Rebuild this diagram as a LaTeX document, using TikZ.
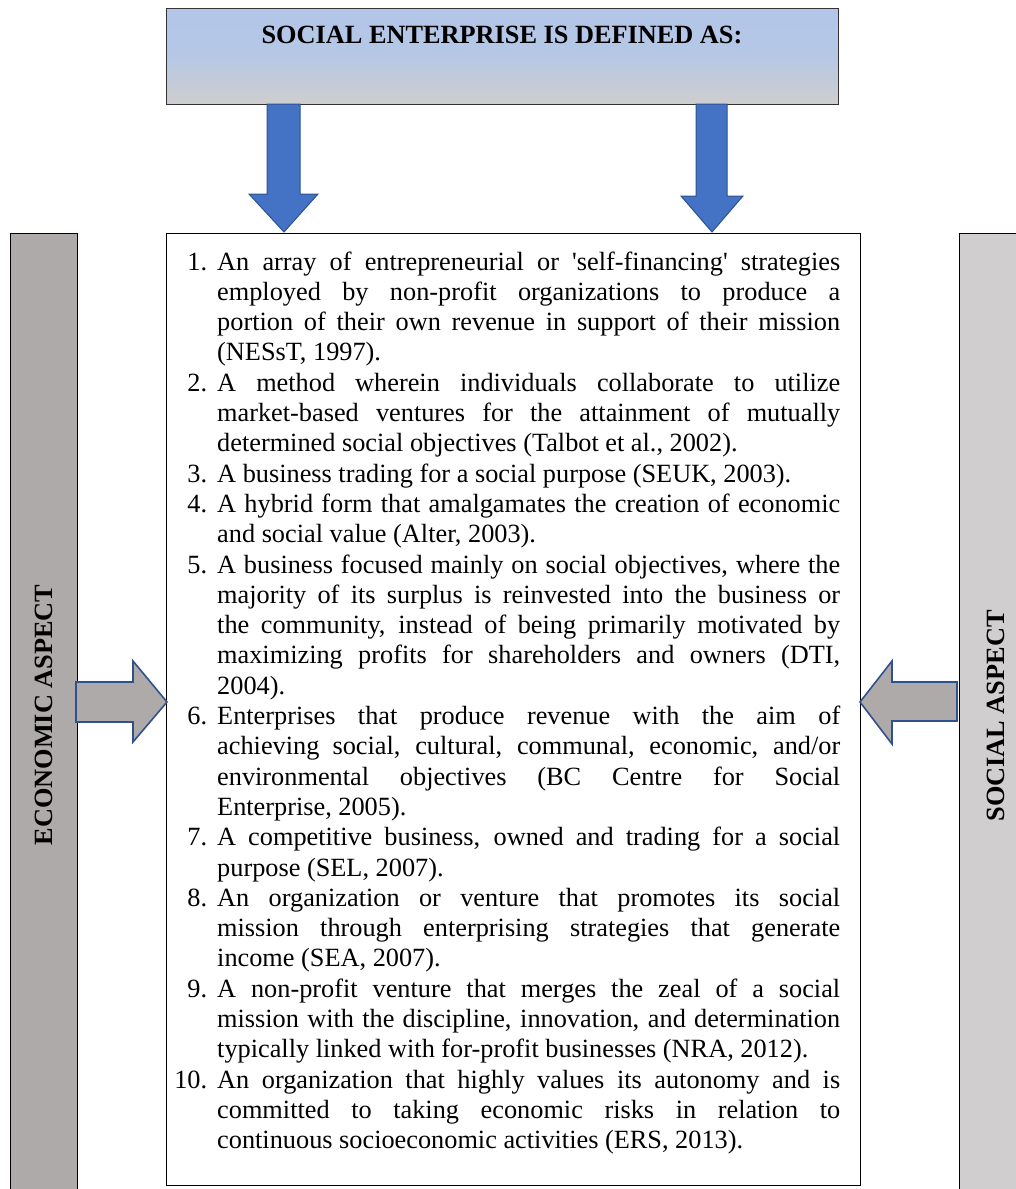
\documentclass[tikz,border=0pt]{standalone}
\usepackage{fontspec}
\setmainfont{Liberation Serif}
\definecolor{titletop}{RGB}{178,198,233}
\definecolor{titlebot}{RGB}{206,206,206}
\definecolor{bluefill}{RGB}{68,114,196}
\definecolor{blueedge}{RGB}{47,82,143}
\definecolor{leftgray}{RGB}{174,170,170}
\definecolor{rightgray}{RGB}{208,206,206}
\newlength\twid
\setlength\twid{623pt}
\newcommand\jline[1]{\hbox to \twid{#1}}
\newcommand\lline[1]{\hbox to \twid{#1\hfil}}
\newcommand\itm[1]{\llap{#1\hspace{10pt}}}
\tikzset{
  boxline/.style={draw=black, line width=1pt},
  bluearrow/.style={fill=bluefill, draw=blueedge, line width=1pt, line join=miter},
  grayarrow/.style={fill=leftgray, draw=blueedge, line width=1.6pt, line join=miter},
  sidelabel/.style={font=\fontsize{26.3pt}{30pt}\selectfont\bfseries, rotate=90, inner sep=0}
}
\begin{document}
\begin{tikzpicture}[x=1pt,y=-1pt]
\useasboundingbox (0,0) rectangle (1015,1189);
% side bars
\fill[leftgray] (10,233) rectangle (77,1200);
\draw[boxline] (10,1200) -- (10,233) -- (77,233) -- (77,1200);
\fill[rightgray] (959,233) rectangle (1025,1200);
\draw[boxline] (1025,233) -- (959,233) -- (959,1200);
\node[sidelabel] (econ) at (44,715) {ECONOMIC ASPECT};
\node[sidelabel] (soc) at (996,716) {SOCIAL ASPECT};
% title box
\shade[top color=titletop, bottom color=titlebot, middle color=titletop!85!titlebot] (166,8) rectangle (838,104);
\draw[boxline, draw=black!80] (166,8) rectangle (838,104);
\node[font=\fontsize{26.3pt}{30pt}\selectfont\bfseries, anchor=base, inner sep=0] (title) at (502,43) {SOCIAL ENTERPRISE IS DEFINED AS:};
% main box
\draw[boxline, fill=white] (166,233) rectangle (860,1185);
% blue arrows
\draw[bluearrow] (267,104) -- (300,104) -- (300,194) -- (318,194) -- (284,232) -- (249,194) -- (267,194) -- cycle;
\draw[bluearrow] (696,104) -- (727,104) -- (727,196) -- (743,196) -- (712,232) -- (681,196) -- (696,196) -- cycle;
% gray arrows
\draw[grayarrow] (76,682) -- (133,682) -- (133,661) -- (167,702) -- (133,742) -- (133,722) -- (76,722) -- cycle;
\draw[grayarrow] (957,682) -- (892,682) -- (892,661) -- (860,702) -- (892,744) -- (892,721) -- (957,721) -- cycle;
% list
\node[anchor=base west, inner sep=0] (list) at (217,270) {\begin{minipage}[t]{623pt}
\fontsize{26.3pt}{30.3pt}\selectfont
\jline{\itm{1.}An array of entrepreneurial or \textquotesingle self-financing\textquotesingle\ strategies}
\jline{employed by non-profit organizations to produce a}
\jline{portion of their own revenue in support of their mission}
\lline{(NESsT, 1997).}
\jline{\itm{2.}A method wherein individuals collaborate to utilize}
\jline{market-based ventures for the attainment of mutually}
\lline{determined social objectives (Talbot et al., 2002).}
\lline{\itm{3.}A business trading for a social purpose (SEUK, 2003).}
\jline{\itm{4.}A hybrid form that amalgamates the creation of economic}
\lline{and social value (Alter, 2003).}
\jline{\itm{5.}A business focused mainly on social objectives, where the}
\jline{majority of its surplus is reinvested into the business or}
\jline{the community, instead of being primarily motivated by}
\jline{maximizing profits for shareholders and owners (DTI,}
\lline{2004).}
\jline{\itm{6.}Enterprises that produce revenue with the aim of}
\jline{achieving social, cultural, communal, economic, and/or}
\jline{environmental objectives (BC Centre for Social}
\lline{Enterprise, 2005).}
\jline{\itm{7.}A competitive business, owned and trading for a social}
\lline{purpose (SEL, 2007).}
\jline{\itm{8.}An organization or venture that promotes its social}
\jline{mission through enterprising strategies that generate}
\lline{income (SEA, 2007).}
\jline{\itm{9.}A non-profit venture that merges the zeal of a social}
\jline{mission with the discipline, innovation, and determination}
\lline{typically linked with for-profit businesses (NRA, 2012).}
\jline{\itm{10.}An organization that highly values its autonomy and is}
\jline{committed to taking economic risks in relation to}
\lline{continuous socioeconomic activities (ERS, 2013).}
\end{minipage}};
\end{tikzpicture}
\end{document}
